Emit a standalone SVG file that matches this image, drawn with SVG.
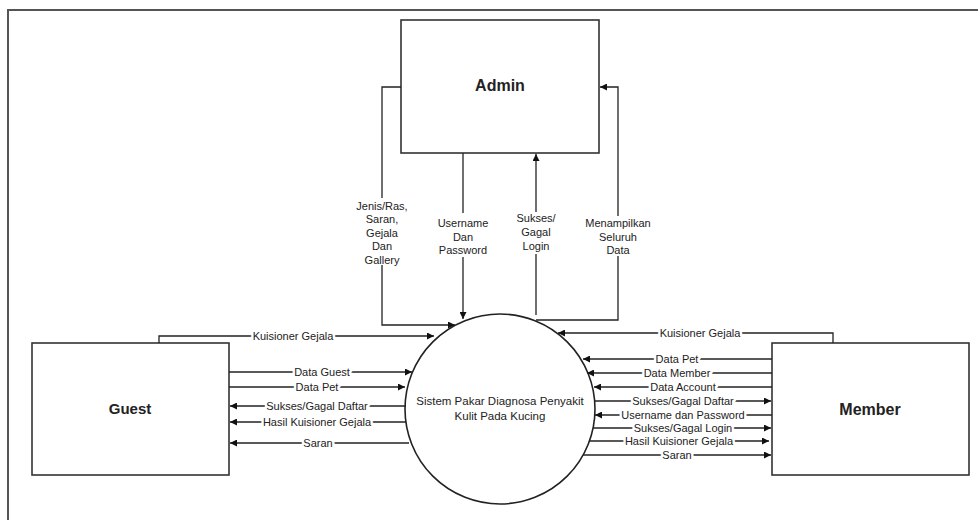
<svg xmlns="http://www.w3.org/2000/svg" width="978" height="520" viewBox="0 0 978 520">
  <style>
    .frame { fill: none; stroke: #555; stroke-width: 2; }
    .box { fill: #fff; stroke: #333; stroke-width: 1.6; }
    .title { font-family: "Liberation Sans", Arial, sans-serif; font-weight: bold; font-size: 16px; fill: #222; text-anchor: middle; }
    .ptext { font-family: "Liberation Sans", Arial, sans-serif; font-size: 11.5px; fill: #222; text-anchor: middle; }
    .flow { fill: none; stroke: #222; stroke-width: 1.3; }
    .lbl { font-family: "Liberation Sans", Arial, sans-serif; font-size: 11px; fill: #222; text-anchor: middle;
           stroke: #fff; stroke-width: 5; stroke-linejoin: round; paint-order: stroke; }
    .vlbl { font-family: "Liberation Sans", Arial, sans-serif; font-size: 11px; fill: #222; text-anchor: middle; }
  </style>
  <defs>
    <marker id="arrow" viewBox="0 0 10 10" refX="10" refY="5" markerWidth="7" markerHeight="7" markerUnits="userSpaceOnUse" orient="auto">
      <path d="M0,0 L10,5 L0,10 z" fill="#111"/>
    </marker>
  </defs>

  <rect class="frame" x="8" y="10" width="1000" height="530"/>

  <!-- external entities and the process -->
  <g id="admin">
    <rect class="box" x="401" y="20" width="198" height="133"/>
    <text class="title" x="500" y="91">Admin</text>
  </g>
  <g id="guest">
    <rect class="box" x="32" y="343" width="197" height="132"/>
    <text class="title" x="130" y="414" style="font-size:15px">Guest</text>
  </g>
  <g id="member">
    <rect class="box" x="772" y="343" width="197" height="132"/>
    <text class="title" x="870" y="415">Member</text>
  </g>
  <g id="sistem">
    <circle cx="500" cy="409" r="95" fill="#fff" stroke="#222" stroke-width="1.6"/>
    <text class="ptext" x="500" y="405">Sistem Pakar Diagnosa Penyakit</text>
    <text class="ptext" x="500" y="420">Kulit Pada Kucing</text>
  </g>

  <g id="connectors">
    <!-- Admin to/from process -->
    <path class="flow" d="M401,87 H382 V198"/>
    <path class="flow" d="M382,265 V325 H455" marker-end="url(#arrow)"/>
    <text class="vlbl" x="382" y="210">Jenis/Ras,</text>
    <text class="vlbl" x="382" y="223">Saran,</text>
    <text class="vlbl" x="382" y="237">Gejala</text>
    <text class="vlbl" x="382" y="250">Dan</text>
    <text class="vlbl" x="382" y="264">Gallery</text>

    <path class="flow" d="M463,153 V213"/>
    <path class="flow" d="M463,257 V319" marker-end="url(#arrow)"/>
    <text class="vlbl" x="463" y="227">Username</text>
    <text class="vlbl" x="463" y="241">Dan</text>
    <text class="vlbl" x="463" y="254">Password</text>

    <path class="flow" d="M536,315 V254"/>
    <path class="flow" d="M536,212 V154" marker-end="url(#arrow)"/>
    <text class="vlbl" x="536" y="222">Sukses/</text>
    <text class="vlbl" x="536" y="236">Gagal</text>
    <text class="vlbl" x="536" y="250">Login</text>

    <path class="flow" d="M536,320 H618 V256"/>
    <path class="flow" d="M618,216 V87 H600" marker-end="url(#arrow)"/>
    <text class="vlbl" x="618" y="227">Menampilkan</text>
    <text class="vlbl" x="618" y="241">Seluruh</text>
    <text class="vlbl" x="618" y="254">Data</text>

    <!-- Guest to/from process -->
    <path class="flow" d="M159,343 V336 H434" marker-end="url(#arrow)"/>
    <text class="lbl" x="293" y="340">Kuisioner Gejala</text>
    <path class="flow" d="M229,372 H412" marker-end="url(#arrow)"/>
    <text class="lbl" x="322" y="376">Data Guest</text>
    <path class="flow" d="M229,387 H405" marker-end="url(#arrow)"/>
    <text class="lbl" x="317" y="391">Data Pet</text>
    <path class="flow" d="M406,406 H230" marker-end="url(#arrow)"/>
    <text class="lbl" x="317" y="410">Sukses/Gagal Daftar</text>
    <path class="flow" d="M406,422 H230" marker-end="url(#arrow)"/>
    <text class="lbl" x="317" y="426">Hasil Kuisioner Gejala</text>
    <path class="flow" d="M409,443 H230" marker-end="url(#arrow)"/>
    <text class="lbl" x="318" y="447">Saran</text>

    <!-- Member to/from process -->
    <path class="flow" d="M833,343 V333 H558" marker-end="url(#arrow)"/>
    <text class="lbl" x="700" y="337">Kuisioner Gejala</text>
    <path class="flow" d="M772,359 H583" marker-end="url(#arrow)"/>
    <text class="lbl" x="677" y="363">Data Pet</text>
    <path class="flow" d="M772,373 H587" marker-end="url(#arrow)"/>
    <text class="lbl" x="677" y="377">Data Member</text>
    <path class="flow" d="M772,387 H594" marker-end="url(#arrow)"/>
    <text class="lbl" x="683" y="391">Data Account</text>
    <path class="flow" d="M595,401 H771" marker-end="url(#arrow)"/>
    <text class="lbl" x="683" y="405">Sukses/Gagal Daftar</text>
    <path class="flow" d="M772,415 H595" marker-end="url(#arrow)"/>
    <text class="lbl" x="683" y="419">Username dan Password</text>
    <path class="flow" d="M593,428 H771" marker-end="url(#arrow)"/>
    <text class="lbl" x="683" y="432">Sukses/Gagal Login</text>
    <path class="flow" d="M589,441 H769" marker-end="url(#arrow)"/>
    <text class="lbl" x="679" y="445">Hasil Kuisioner Gejala</text>
    <path class="flow" d="M583,455 H771" marker-end="url(#arrow)"/>
    <text class="lbl" x="677" y="459">Saran</text>
  </g>
</svg>
